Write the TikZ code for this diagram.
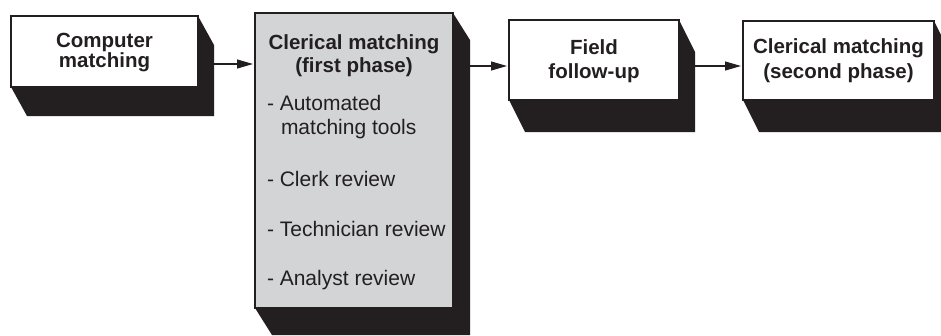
\documentclass[tikz,border=0pt]{standalone}
\usepackage{fontspec}
\setmainfont{Liberation Sans}
\usetikzlibrary{arrows.meta,backgrounds}
\definecolor{ink}{HTML}{231F20}
\definecolor{panel}{HTML}{D3D4D6}
\newcommand\dropshadow[3]{%
  \fill[ink] (#1.north east) -- ++(#2,#3) -- ([shift={(#2,#3)}]#1.south east)
    -- ([shift={(#2,#3)}]#1.south west) -- (#1.south west) -- cycle;}
\begin{document}
\begin{tikzpicture}[x=1pt,y=-1pt,
  box/.style={draw=ink,line width=1.1pt,fill=white,inner sep=0pt,outer sep=0pt},
  title/.style={inner sep=0pt,outer sep=0pt,text=ink,anchor=base,font=\bfseries\fontsize{20.5}{24}\selectfont},
  item/.style={inner sep=0pt,outer sep=0pt,text=ink,anchor=base west,font=\fontsize{21}{24}\selectfont},
  arr/.style={draw=ink,line width=1.1pt,-{Triangle[length=16pt,width=9pt]},shorten >=2pt}]
\useasboundingbox (0,0) rectangle (941,335);
\clip (0,0) rectangle (941,335);
% boxes
\node[box,minimum width=187pt,minimum height=71pt] (b1) at (104.5,51.5) {};
\node[box,fill=panel,minimum width=198pt,minimum height=295pt] (b2) at (354,160.5) {};
\node[box,minimum width=170pt,minimum height=80pt] (b3) at (594,60) {};
\node[box,minimum width=191pt,minimum height=79pt] (b4) at (838.5,60.5) {};
% shadows and connectors behind the boxes
\begin{scope}[on background layer]
  \draw[arr] (b1.east |- 0,64) -- (b2.west |- 0,64);
  \draw[arr] (b2.east |- 0,66) -- (b3.west |- 0,66);
  \draw[arr] (b3.east |- 0,66) -- (b4.west |- 0,66);
  \dropshadow{b1}{16}{29}
  \dropshadow{b2}{17}{27}
  \dropshadow{b3}{16}{32}
  \dropshadow{b4}{16}{32}
\end{scope}
% texts
\node[title] (t1a) at (104.5,47) {Computer};
\node[title] (t1b) at (104.5,67) {matching};
\node[title] (t2a) at (354,49) {Clerical matching};
\node[title] (t2b) at (354,72) {(first phase)};
\node[item] (i1a) at (267,110) {- Automated};
\node[item] (i1b) at (281,134) {matching tools};
\node[item] (i2) at (267,186) {- Clerk review};
\node[item] (i3) at (267,236) {- Technician review};
\node[item] (i4) at (267,285) {- Analyst review};
\node[title] (t3a) at (594,54) {Field};
\node[title] (t3b) at (594,78) {follow-up};
\node[title] (t4a) at (838.5,53) {Clerical matching};
\node[title] (t4b) at (838.5,78) {(second phase)};
\end{tikzpicture}
\end{document}
